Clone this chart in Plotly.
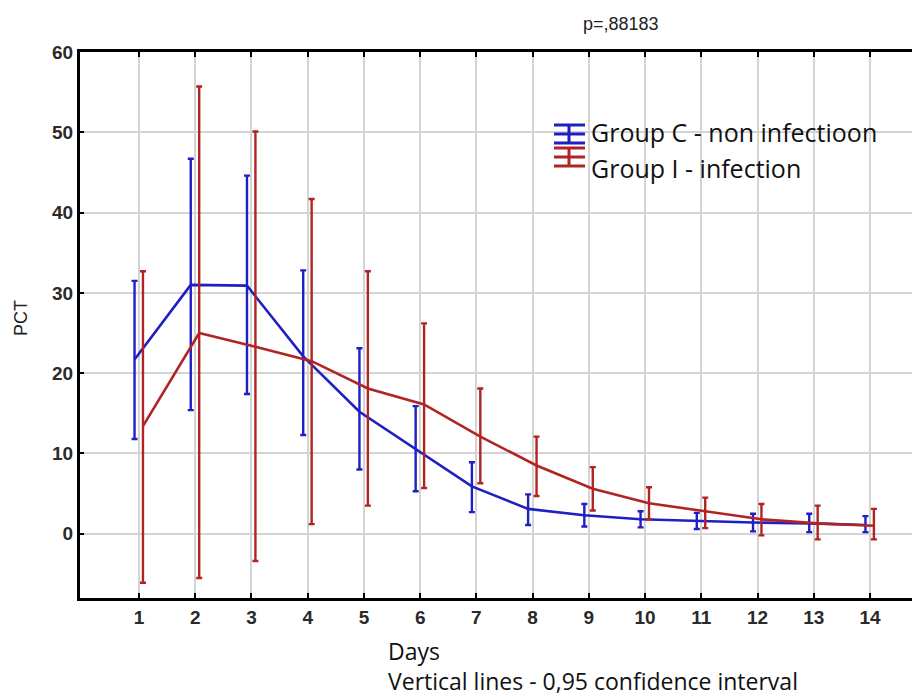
import plotly.graph_objects as go

days = list(range(1, 15))
tick_labels = [str(d) for d in days]
y_ticks = [0, 10, 20, 30, 40, 50, 60]

# Group C - non infection: mean, lower and upper 0.95 CI
c_mean = [21.7, 31.0, 30.9, 22.1, 15.2, 10.5, 5.9, 3.1, 2.3, 1.8, 1.6, 1.4, 1.3, 1.1]
c_low = [11.8, 15.4, 17.4, 12.3, 8.0, 5.3, 2.7, 1.1, 0.9, 0.8, 0.6, 0.3, 0.2, 0.2]
c_up = [31.5, 46.7, 44.6, 32.8, 23.1, 15.9, 8.9, 4.9, 3.7, 2.8, 2.6, 2.5, 2.5, 2.2]

# Group I - infection
i_mean = [13.4, 25.0, 23.3, 21.5, 18.1, 16.1, 12.1, 8.5, 5.6, 3.8, 2.8, 1.8, 1.3, 1.0]
i_low = [-6.1, -5.5, -3.4, 1.2, 3.5, 5.7, 6.3, 4.7, 2.9, 1.8, 0.7, -0.2, -0.7, -0.7]
i_up = [32.7, 55.7, 50.1, 41.7, 32.7, 26.2, 18.1, 12.1, 8.3, 5.8, 4.5, 3.7, 3.5, 3.1]

names = ["Group C - non infectioon", "Group I - infection"]

BLUE = "#1f1fc4"
RED = "#b02424"

def trace(name, mean, low, up, color, shift):
    x = [d + shift for d in days]
    return go.Scatter(
        x=x, y=mean, name=name, mode="lines", showlegend=False,
        line=dict(color=color, width=2.6),
        error_y=dict(type="data", symmetric=False,
                     array=[u - m for u, m in zip(up, mean)],
                     arrayminus=[m - l for m, l in zip(mean, low)],
                     color=color, thickness=2.4, width=3),
    )

fig = go.Figure()
fig.add_trace(trace(names[0], c_mean, c_low, c_up, BLUE, -0.08))
fig.add_trace(trace(names[1], i_mean, i_low, i_up, RED, 0.07))

# page body has an 8px margin: figure is 912x688 drawn at (8, 8)
OFF = 8
W, H = 920 - OFF, 696 - OFF
L, T, B = 80 - OFF, 52 - OFF, 598 - OFF
plot_w, plot_h = W - L, B - T
def px(xr): return (xr - OFF - L) / plot_w
def py(yr): return (B - (yr - OFF)) / plot_h

fig.update_layout(
    width=W, height=H,
    margin=dict(l=L, r=0, t=T, b=H - B, autoexpand=False),
    paper_bgcolor="white", plot_bgcolor="white",
    showlegend=False,
    font=dict(family="Arial", color="#222"),
)

def note(text, xr, yr, size, family, xanchor="left", angle=0, color="#111"):
    fig.add_annotation(text=text, x=px(xr), y=py(yr), xref="paper", yref="paper",
                       xanchor=xanchor, yanchor="middle", textangle=angle,
                       showarrow=False, font=dict(family=family, size=size, color=color))

note("p=,88183", 621, 24, 18, "Arial", xanchor="center", color="#222")
note("PCT", 21, 318, 18, "Arial", xanchor="center", angle=-90, color="#222")
note("Days", 386, 651, 23, "Open Sans")
note("Vertical lines - 0,95 confidence interval", 386, 681, 23, "Open Sans")

# legend (text + error-bar style icons)
legend_rows = [(names[0], BLUE, 132, 134), (names[1], RED, 168, 157)]
for name, color, ty, iy in legend_rows:
    note(name, 589, ty, 25, "Open Sans")
    for dy in (-9, 0, 9):
        fig.add_shape(type="line", xref="paper", yref="paper",
                      x0=px(554), x1=px(585), y0=py(iy + dy), y1=py(iy + dy),
                      line=dict(color=color, width=3))
    fig.add_shape(type="line", xref="paper", yref="paper",
                  x0=px(569), x1=px(569), y0=py(iy - 9), y1=py(iy + 9),
                  line=dict(color=color, width=3))

tick_font = dict(family="Arial", size=19, color="#2a2a2a", weight="bold")

fig.update_xaxes(range=[-0.05, 14.89], tickvals=days, ticktext=tick_labels,
                 showgrid=True, gridcolor="#d4d4d4", gridwidth=1.5,
                 showline=True, linecolor="black", linewidth=3, mirror="ticks",
                 ticks="inside", ticklen=5, tickcolor="black", tickwidth=1.5,
                 tickfont=tick_font, zeroline=False, automargin=False)
fig.update_yaxes(range=[-8, 60], tickvals=y_ticks,
                 showgrid=True, gridcolor="#d4d4d4", gridwidth=1.5,
                 showline=True, linecolor="black", linewidth=3,
                 ticks="inside", ticklen=4, tickcolor="black", tickwidth=1.5,
                 tickfont=tick_font, zeroline=False, automargin=False)

fig.write_html("out.html")
